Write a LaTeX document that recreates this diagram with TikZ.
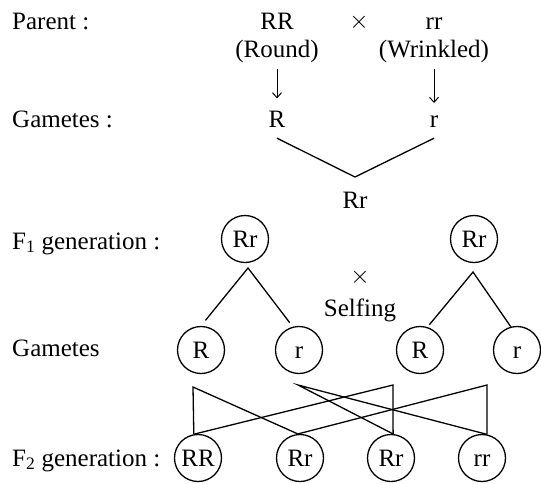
\documentclass[tikz,border=0pt]{standalone}
\usepackage{fontspec}
\setmainfont{Liberation Serif}
\usetikzlibrary{arrows.meta, positioning, calc}
\tikzset{
    basetext/.style={font=\fontsize{25}{30}\selectfont, inner sep=0pt, anchor=base},
    rowlabel/.style={basetext, anchor=base west},
    allele/.style={circle, draw=black, line width=1.3pt, minimum size=47pt, inner sep=0pt, text height=16.5pt, text depth=0pt, font=\fontsize{25}{30}\selectfont},
    arrow/.style={line width=1pt, -{Straight Barb[length=5pt, width=9pt]}, shorten <=6pt, shorten >=12pt},
    line/.style={line width=1.3pt, color=black}
}

\begin{document}
\begin{tikzpicture}[x=1pt, y=-1pt]
    \useasboundingbox (0,0) rectangle (541,483);

    % Row labels
    \node (lparent) [rowlabel] at (12,29) {Parent :};
    \node (lgam) [rowlabel] at (12,127) {Gametes :};
    \node (lfone) [rowlabel] at (12,249) {F\textsubscript{1} generation :};
    \node (lgamtwo) [rowlabel] at (12,356) {Gametes};
    \node (lftwo) [rowlabel] at (12,466) {F\textsubscript{2} generation :};

    % Parents
    \node (pRR) [basetext] at (277,29) {RR};
    \node (cross) [basetext] at (359,28) {$\times$};
    \node (prr) [basetext] at (434,29) {rr};
    \node (round) [basetext] at (277,57) {(Round)};
    \node (wrinkled) [basetext] at (434,57) {(Wrinkled)};
    \node (gR) [basetext] at (277,127) {R};
    \node (gr) [basetext] at (434,127) {r};
    \coordinate (meet) at (355,177);
    \node (hybrid) [basetext] at (355,208) {Rr};

    % F1 and selfing
    \node (fa) [allele] at (245,239) {Rr};
    \node (fb) [allele] at (474,239) {Rr};
    \node (selfx) [basetext] at (360,283) {$\times$};
    \node (selfing) [basetext] at (360,316) {Selfing};
    \coordinate (apexA) at (248,268);
    \coordinate (apexB) at (473,272);

    % Gametes of F1
    \node (gRa) [allele] at (201,350) {R};
    \node (gra) [allele] at (299,350) {r};
    \node (gRb) [allele] at (420,350) {R};
    \node (grb) [allele] at (517,350) {r};

    % F2
    \node (fRR) [allele] at (198,458) {RR};
    \node (fRra) [allele] at (300,458) {Rr};
    \node (fRrb) [allele] at (391,458) {Rr};
    \node (frr) [allele] at (482,458) {rr};
    \coordinate (ma) at (193,387);
    \coordinate (mb) at (298,385);
    \coordinate (mc) at (393,385);
    \coordinate (md) at (487,385);

    % Arrows
    \draw [arrow] (round) -- (gR);
    \draw [arrow] (wrinkled) -- (gr);

    % Lines
    \draw [line] ([yshift=-11pt]gR.south) -- (meet) -- ([yshift=-11pt]gr.south);
    \draw [line, shorten <=7pt, shorten >=5pt] (gRa.north) -- (apexA) -- (gra.105);
    \draw [line, shorten <=3pt] (gRb.72) -- (apexB) -- (grb.105);

    \draw [line] (fRR.100) -- (ma) -- (fRra.95);
    \draw [line] (fRrb.85) -- (mb) -- (frr.78);
    \draw [line] (fRR.100) -- (mc) -- (fRrb.85);
    \draw [line] (fRra.95) -- (md) -- (frr.78);
\end{tikzpicture}
\end{document}
